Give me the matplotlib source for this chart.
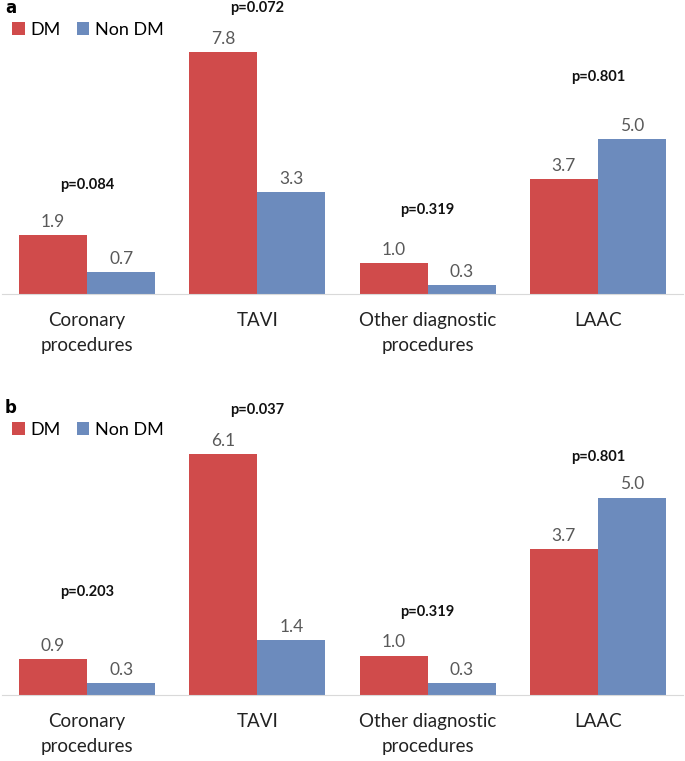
import numpy as np
import matplotlib.pyplot as plt

plt.rcParams['font.family'] = ['Lato', 'DejaVu Sans']

categories = ['Coronary\nprocedures', 'TAVI', 'Other diagnostic\nprocedures', 'LAAC']
dm_a = [1.9, 7.8, 1.0, 3.7]
nondm_a = [0.7, 3.3, 0.3, 5.0]
p_a = ['p=0.084', 'p=0.072', 'p=0.319', 'p=0.801']
dm_b = [0.9, 6.1, 1.0, 3.7]
nondm_b = [0.3, 1.4, 0.3, 5.0]
p_b = ['p=0.203', 'p=0.037', 'p=0.319', 'p=0.801']

red = '#D04B4B'
blue = '#6C8BBD'
W, H = 685, 761

fig = plt.figure(figsize=(W/100, H/100), dpi=100)

def panel(letter, top, bottom, ymax, dm, nondm, pvals, p_y):
    # top/bottom in pixels from top of figure
    ax = fig.add_axes([2/W, 1-bottom/H, 681/W, (bottom-top)/H])
    x = np.arange(len(categories))
    w = 0.4
    b1 = ax.bar(x-w/2, dm, w, color=red, label='DM')
    b2 = ax.bar(x+w/2, nondm, w, color=blue, label='Non DM')
    for bars, vals in ((b1, dm), (b2, nondm)):
        for r, v in zip(bars, vals):
            ax.annotate(f'{v:.1f}', (r.get_x()+r.get_width()/2, v),
                        xytext=(0, 9.5), textcoords='offset points',
                        ha='center', va='center', fontsize=12.5, color='#595959')
    for xi, p, py in zip(x, pvals, p_y):
        ax.text(xi, py, p, ha='center', va='center', fontsize=10.5,
                fontweight='bold', color='#111111', clip_on=False)
    ax.set_xlim(-0.5, 3.5)
    ax.set_ylim(0, ymax)
    ax.set_xticks(x)
    ax.set_xticklabels(categories, fontsize=13.5, color='#222222', linespacing=1.6)
    ax.tick_params(length=0, pad=13)
    ax.set_yticks([])
    for s in ['top', 'right', 'left']:
        ax.spines[s].set_visible(False)
    ax.spines['bottom'].set_color('#D9D9D9')
    ax.legend(loc='center left', bbox_to_anchor=(12/W, 1-(top+10)/H),
              bbox_transform=fig.transFigure, ncol=2, frameon=False,
              fontsize=13, handlelength=0.7, handleheight=0.7,
              handletextpad=0.3, columnspacing=0.9, borderaxespad=0, borderpad=0)
    fig.text(5/W, 1-(top-12)/H, letter, fontsize=12, fontweight='bold',
             ha='left', va='center', family='DejaVu Sans')
    return ax

panel('a', 20, 294, 274/31, dm_a, nondm_a, p_a, [3.52, 9.23, 2.71, 7.0])
panel('b', 420, 695, 275/39.5, dm_b, nondm_b, p_b, [2.61, 7.22, 2.10, 6.03])

fig.savefig('out.png', dpi=100)
